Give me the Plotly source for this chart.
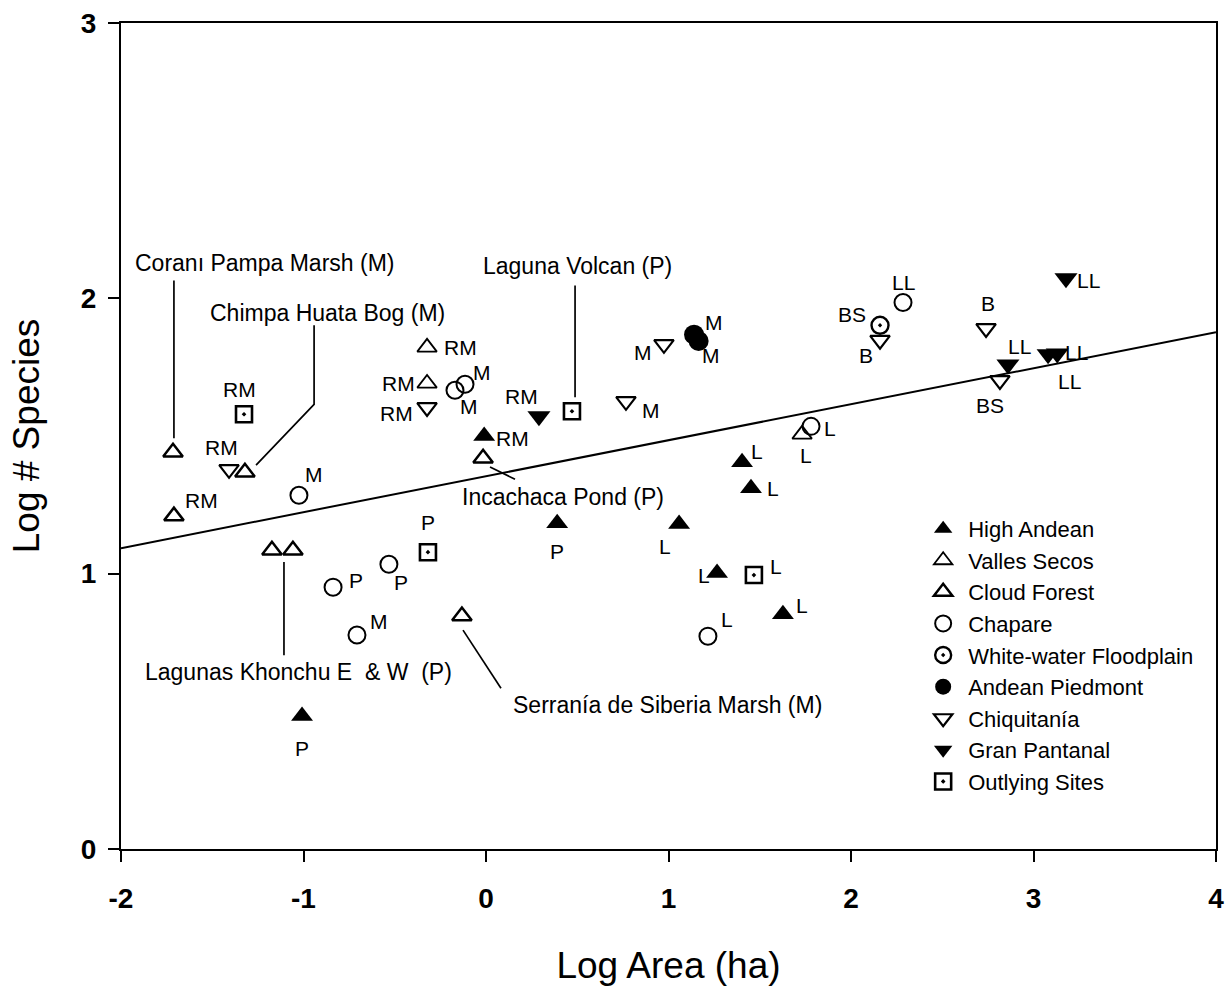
import plotly.graph_objects as go

# ---- data: log10 area (ha) vs log10 species count, grouped by region ----
high_andean_x = [-0.01, 0.39, 1.058, 1.403, 1.452, 1.266, 1.627, -1.008]
high_andean_y = [1.50, 1.183, 1.18, 1.405, 1.31, 1.002, 0.853, 0.483]
high_andean_lab = ["RM", "P", "L", "L", "L", "L", "L", "P"]

valles_x = [-0.323, -0.323, 1.732]
valles_y = [1.822, 1.691, 1.506]
valles_lab = ["RM", "RM", "L"]

cloud_x = [-1.715, -1.71, -1.321, -1.173, -1.058, -0.016, -0.132]
cloud_y = [1.441, 1.209, 1.368, 1.085, 1.085, 1.419, 0.846]
cloud_lab = ["", "RM", "", "", "", "", ""]

chapare_x = [-1.025, -0.838, -0.532, -0.707, 1.216, 2.285, -0.17, -0.115, 1.781]
chapare_y = [1.285, 0.951, 1.034, 0.777, 0.773, 1.985, 1.666, 1.688, 1.535]
chapare_lab = ["M", "P", "P", "M", "L", "LL", "M", "M", "L"]

floodplain_x = [2.159]
floodplain_y = [1.902]
floodplain_lab = ["BS"]

piedmont_x = [1.140, 1.165]
piedmont_y = [1.868, 1.845]
piedmont_lab = ["M", "M"]

chiquitania_x = [-1.408, -0.323, 0.975, 0.767, 2.159, 2.740, 2.816]
chiquitania_y = [1.379, 1.604, 1.833, 1.626, 1.848, 1.891, 1.702]
chiquitania_lab = ["RM", "RM", "M", "M", "B", "B", "BS"]

pantanal_x = [0.29, 3.178, 2.86, 3.08, 3.13]
pantanal_y = [1.572, 2.073, 1.76, 1.797, 1.80]
pantanal_lab = ["RM", "LL", "LL", "LL", "LL"]

outlying_x = [-1.326, -0.318, 0.471, 1.468]
outlying_y = [1.579, 1.078, 1.59, 0.995]
outlying_lab = ["RM", "P", "", "L"]

# species-area regression
reg_slope = 0.1307
reg_intercept = 1.354
reg_x = [-2, 4]

# named sites with leader lines
site_names = ["Coranı Pampa Marsh (M)", "Chimpa Huata Bog (M)", "Laguna Volcan (P)",
              "Incachaca Pond (P)", "Lagunas Khonchu E  & W  (P)",
              "Serranía de Siberia Marsh (M)"]
site_text_x = [-1.211, -0.871, 0.499, 0.422, -1.025, 0.997]
site_text_y = [2.127, 1.946, 2.116, 1.278, 0.642, 0.523]
leader_x = [[-1.710, -1.710], [-0.942, -0.942, -1.260], [0.488, 0.488],
            [0.022, 0.159], [-1.107, -1.107], [-0.126, 0.082]]
leader_y = [[2.065, 1.492], [1.902, 1.615, 1.394], [2.047, 1.641],
            [1.387, 1.343], [1.042, 0.704], [0.795, 0.584]]

x_ticks = [-2, -1, 0, 1, 2, 3, 4]
y_ticks = [0, 1, 2, 3]

# ---- label offsets (pixels) for the small point tags ----
offsets = {
    "High Andean": [(28, -2), (0, -28), (-14, -22), (15, 11), (22, 0), (-13, -2), (19, 9), (0, -32)],
    "Valles Secos": [(33, 0), (-29, 0), (4, -21)],
    "Cloud Forest": [(0, 0), (28, 16), (0, 0), (0, 0), (0, 0), (0, 0), (0, 0)],
    "Chapare": [(15, 21), (23, 7), (12, -18), (22, 14), (19, 17), (0, 20), (14, -16), (17, 12), (19, -2)],
    "White-water Floodplain": [(-28, 11)],
    "Andean Piedmont": [(20, 12), (12, -14)],
    "Chiquitanía": [(-8, 22), (-31, -6), (-21, -8), (25, -9), (-14, -15), (2, 25), (-10, -25)],
    "Gran Pantanal": [(-17, 20), (23, -2), (12, 18), (28, 2), (12, -28)],
    "Outlying Sites": [(-5, 25), (0, 30), (0, 0), (22, 9)],
}

FONT = "Liberation Sans, Arial, sans-serif"
BLACK = "black"

groups = [
    ("High Andean", high_andean_x, high_andean_y, high_andean_lab,
     dict(symbol="triangle-up", size=19, color=BLACK, line=dict(width=0))),
    ("Valles Secos", valles_x, valles_y, valles_lab,
     dict(symbol="triangle-up-open", size=17, color=BLACK, line=dict(width=1.8))),
    ("Cloud Forest", cloud_x, cloud_y, cloud_lab,
     dict(symbol="triangle-up-open", size=17, color=BLACK, line=dict(width=2.5))),
    ("Chapare", chapare_x, chapare_y, chapare_lab,
     dict(symbol="circle-open", size=17, color=BLACK, line=dict(width=2))),
    ("White-water Floodplain", floodplain_x, floodplain_y, floodplain_lab,
     dict(symbol="circle-open-dot", size=17, color=BLACK, line=dict(width=2.4))),
    ("Andean Piedmont", piedmont_x, piedmont_y, piedmont_lab,
     dict(symbol="circle", size=20, color=BLACK, line=dict(width=0))),
    ("Chiquitanía", chiquitania_x, chiquitania_y, chiquitania_lab,
     dict(symbol="triangle-down-open", size=17, color=BLACK, line=dict(width=2.2))),
    ("Gran Pantanal", pantanal_x, pantanal_y, pantanal_lab,
     dict(symbol="triangle-down", size=20, color=BLACK, line=dict(width=0))),
    ("Outlying Sites", outlying_x, outlying_y, outlying_lab,
     dict(symbol="square-open-dot", size=16, color=BLACK, line=dict(width=2.6))),
]

fig = go.Figure()

# regression line
fig.add_trace(go.Scatter(
    x=reg_x, y=[reg_intercept + reg_slope * v for v in reg_x],
    mode="lines", line=dict(color=BLACK, width=2), showlegend=False, hoverinfo="skip"))

# leader lines for the named sites
for lx, ly in zip(leader_x, leader_y):
    fig.add_trace(go.Scatter(x=lx, y=ly, mode="lines", line=dict(color=BLACK, width=1.7),
                             showlegend=False, hoverinfo="skip"))

annotations = []
for name, xs, ys, labs, marker in groups:
    fig.add_trace(go.Scatter(x=xs, y=ys, mode="markers", name=name, marker=marker,
                             hoverinfo="skip"))
    for (px, py, lab, (dx, dy)) in zip(xs, ys, labs, offsets[name]):
        if lab:
            annotations.append(dict(x=px, y=py, text=lab, showarrow=False,
                                    xshift=dx, yshift=dy,
                                    font=dict(family=FONT, size=21, color=BLACK)))

for name, tx, ty in zip(site_names, site_text_x, site_text_y):
    annotations.append(dict(x=tx, y=ty, text=name, showarrow=False,
                            font=dict(family=FONT, size=23, color=BLACK)))

fig.update_layout(
    width=1228, height=994,
    margin=dict(l=121, r=12, t=23, b=145),
    paper_bgcolor="white", plot_bgcolor="white",
    font=dict(family=FONT, color=BLACK),
    annotations=annotations,
    legend=dict(x=0.728, y=0.413, xanchor="left", yanchor="top",
                font=dict(family=FONT, size=22, color=BLACK),
                bgcolor="rgba(0,0,0,0)", itemwidth=40, tracegroupgap=0),
    xaxis=dict(range=[-2, 4], tickvals=x_ticks, ticktext=[str(v) for v in x_ticks],
               automargin=False,
               showgrid=False, zeroline=False, showline=True, linecolor=BLACK, linewidth=2,
               mirror=True, ticks="outside", ticklen=11, tickwidth=2, tickcolor=BLACK,
               ticklabelstandoff=12,
               tickfont=dict(family=FONT, size=28, color=BLACK, weight="bold"),
               title=dict(text="Log Area (ha)", standoff=40,
                          font=dict(family=FONT, size=37, color=BLACK))),
    yaxis=dict(range=[0, 3], tickvals=y_ticks, ticktext=[str(v) for v in y_ticks],
               automargin=False,
               showgrid=False, zeroline=False, showline=True, linecolor=BLACK, linewidth=2,
               mirror=True, ticks="outside", ticklen=11, tickwidth=2, tickcolor=BLACK,
               ticklabelstandoff=6,
               tickfont=dict(family=FONT, size=28, color=BLACK, weight="bold"),
               title=dict(text="Log # Species", standoff=30,
                          font=dict(family=FONT, size=37, color=BLACK))),
)

fig.write_html("out.html", config={"displayModeBar": False})
